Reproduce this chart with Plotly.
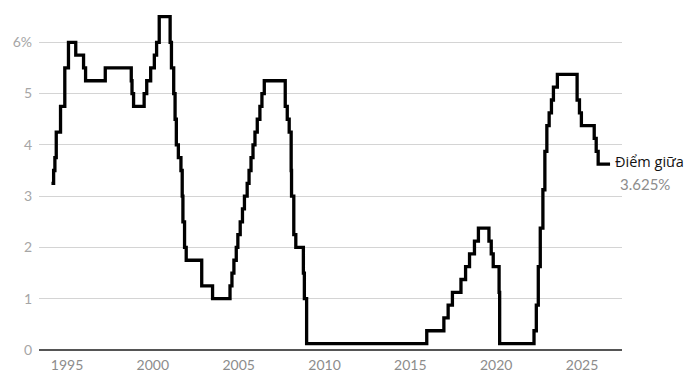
import plotly.graph_objects as go

dates = [
    "1994-02-04", "1994-03-22", "1994-04-18", "1994-05-17", "1994-08-16", "1994-11-15",
    "1995-02-01", "1995-07-06", "1995-12-19", "1996-01-31", "1997-03-25",
    "1998-09-29", "1998-10-15", "1998-11-17", "1999-06-30", "1999-08-24", "1999-11-16",
    "2000-02-02", "2000-03-21", "2000-05-16",
    "2001-01-03", "2001-01-31", "2001-03-20", "2001-04-18", "2001-05-15", "2001-06-27",
    "2001-08-21", "2001-09-17", "2001-10-02", "2001-11-06", "2001-12-11",
    "2002-11-06", "2003-06-25",
    "2004-06-30", "2004-08-10", "2004-09-21", "2004-11-10", "2004-12-14",
    "2005-02-02", "2005-03-22", "2005-05-03", "2005-06-30", "2005-08-09", "2005-09-20",
    "2005-11-01", "2005-12-13",
    "2006-01-31", "2006-03-28", "2006-05-10", "2006-06-29",
    "2007-09-18", "2007-10-31", "2007-12-11",
    "2008-01-22", "2008-01-30", "2008-03-18", "2008-04-30", "2008-10-08", "2008-10-29",
    "2008-12-16",
    "2015-12-16", "2016-12-14", "2017-03-15", "2017-06-14", "2017-12-13",
    "2018-03-21", "2018-06-13", "2018-09-26", "2018-12-19",
    "2019-07-31", "2019-09-18", "2019-10-30",
    "2020-03-03", "2020-03-15",
    "2022-03-16", "2022-05-04", "2022-06-15", "2022-07-27", "2022-09-21", "2022-11-02",
    "2022-12-14",
    "2023-02-01", "2023-03-22", "2023-05-03", "2023-07-26",
    "2024-09-18", "2024-11-07", "2024-12-18",
    "2025-09-17", "2025-10-29", "2025-12-10",
    "2026-08-20",
]
rates = [
    3.25, 3.5, 3.75, 4.25, 4.75, 5.5,
    6.0, 5.75, 5.5, 5.25, 5.5,
    5.25, 5.0, 4.75, 5.0, 5.25, 5.5,
    5.75, 6.0, 6.5,
    6.0, 5.5, 5.0, 4.5, 4.0, 3.75,
    3.5, 3.0, 2.5, 2.0, 1.75,
    1.25, 1.0,
    1.25, 1.5, 1.75, 2.0, 2.25,
    2.5, 2.75, 3.0, 3.25, 3.5, 3.75,
    4.0, 4.25,
    4.5, 4.75, 5.0, 5.25,
    4.75, 4.5, 4.25,
    3.5, 3.0, 2.25, 2.0, 1.5, 1.0,
    0.125,
    0.375, 0.625, 0.875, 1.125, 1.375,
    1.625, 1.875, 2.125, 2.375,
    2.125, 1.875, 1.625,
    1.125, 0.125,
    0.375, 0.875, 1.625, 2.375, 3.125, 3.875,
    4.375,
    4.625, 4.875, 5.125, 5.375,
    4.875, 4.625, 4.375,
    4.125, 3.875, 3.625,
    3.625,
]

y_ticks = [0, 1, 2, 3, 4, 5, 6]
y_tick_labels = ["0", "1", "2", "3", "4", "5", "6%"]
x_ticks = ["1995-01-01", "2000-01-01", "2005-01-01", "2010-01-01",
           "2015-01-01", "2020-01-01", "2025-01-01"]
x_tick_labels = ["1995", "2000", "2005", "2010", "2015", "2020", "2025"]

label_name = "Điểm giữa"
label_value = "3.625%"

FONT = "Lato"

fig = go.Figure()
fig.add_trace(go.Scatter(
    x=dates, y=rates, mode="lines", line_shape="hv",
    line=dict(color="#000000", width=3.3), hoverinfo="skip", showlegend=False,
))

fig.add_annotation(x=dates[-1], y=rates[-1], xref="x", yref="y",
                   text=label_name, showarrow=False, xanchor="left", yanchor="middle",
                   xshift=3, yshift=3, font=dict(family="Open Sans", size=14.5, color="#111111"))
fig.add_annotation(x=dates[-1], y=rates[-1], xref="x", yref="y",
                   text=label_value, showarrow=False, xanchor="left", yanchor="middle",
                   xshift=8, yshift=-20, font=dict(family=FONT, size=15, color="#8c8c8c"))

fig.update_layout(
    width=700, height=382,
    margin=dict(l=39, r=78, t=10, b=32),
    paper_bgcolor="white", plot_bgcolor="white",
    xaxis=dict(
        type="date", range=["1993-05-15", "2027-05-01"],
        tickvals=x_ticks, ticktext=x_tick_labels,
        showgrid=False, zeroline=False, showline=False,
        ticks="", tickfont=dict(family=FONT, size=14, color="#8c8c8c"),
        ticklabelstandoff=5,
    ),
    yaxis=dict(
        range=[0, 6.63], tickvals=y_ticks, ticktext=y_tick_labels,
        showgrid=True, gridcolor="#d4d4d4", gridwidth=1,
        zeroline=True, zerolinecolor="#555555", zerolinewidth=1.5,
        showline=False, ticks="",
        tickfont=dict(family=FONT, size=14, color="#a6a6a6"),
        ticklabelstandoff=6,
    ),
)

fig.write_html("out.html")
